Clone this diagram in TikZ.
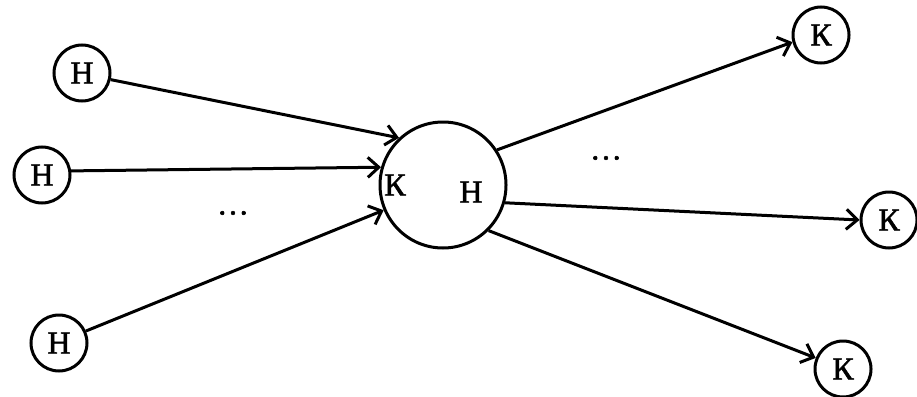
\documentclass[tikz,border=0pt]{standalone}
\usepackage{fontspec}
\setmainfont{Liberation Serif}
\newfontfamily\markfont[AutoFakeBold=1.6]{Liberation Serif}
\usetikzlibrary{arrows.meta}

\begin{document}
\begin{tikzpicture}[x=1pt,y=-1pt,
    vertex/.style={draw,circle,line width=3pt,minimum size=56pt,inner sep=0pt,font=\fontsize{32}{32}\markfont\bfseries},
    hub/.style={draw,circle,line width=3pt,minimum size=126pt,inner sep=0pt},
    mark label/.style={font=\fontsize{32}{32}\markfont\bfseries},
    link/.style={line width=3pt,-{Straight Barb[length=11pt,width=20pt,line width=3pt]}}]
        % Frame of the picture
        \useasboundingbox (0,0) rectangle (917,396);
        % Input vertices
        \node[vertex] (in1) at (82,73) {Н};
        \node[vertex] (in2) at (42,175) {Н};
        \node[vertex] (in3) at (59,343) {Н};
        % Central vertex
        \node[hub] (hub) at (443,185) {};
        \node[mark label] (hubk) at (395,185) {К};
        \node[mark label] (hubn) at (471,192) {Н};
        % Output vertices
        \node[vertex] (out1) at (821,35) {К};
        \node[vertex] (out2) at (889,220) {К};
        \node[vertex] (out3) at (843,369) {К};
        % Dots
        \node[mark label] (ldots) at (233,213) {\dots};
        \node[mark label] (rdots) at (606,158) {\dots};
        % Incoming arcs
        \draw[link] (in1.-13) -- (hub.133);
        \draw[link] (in2.8) -- (hub.164);
        \draw[link] (in3.24) -- (hub.203);
        % Outgoing arcs
        \draw[link] (hub.33) -- (out1.194);
        \draw[link] (hub.-16) -- (out2.180);
        \draw[link] (hub.-45) -- (out3.158);
      \end{tikzpicture}
\end{document}
